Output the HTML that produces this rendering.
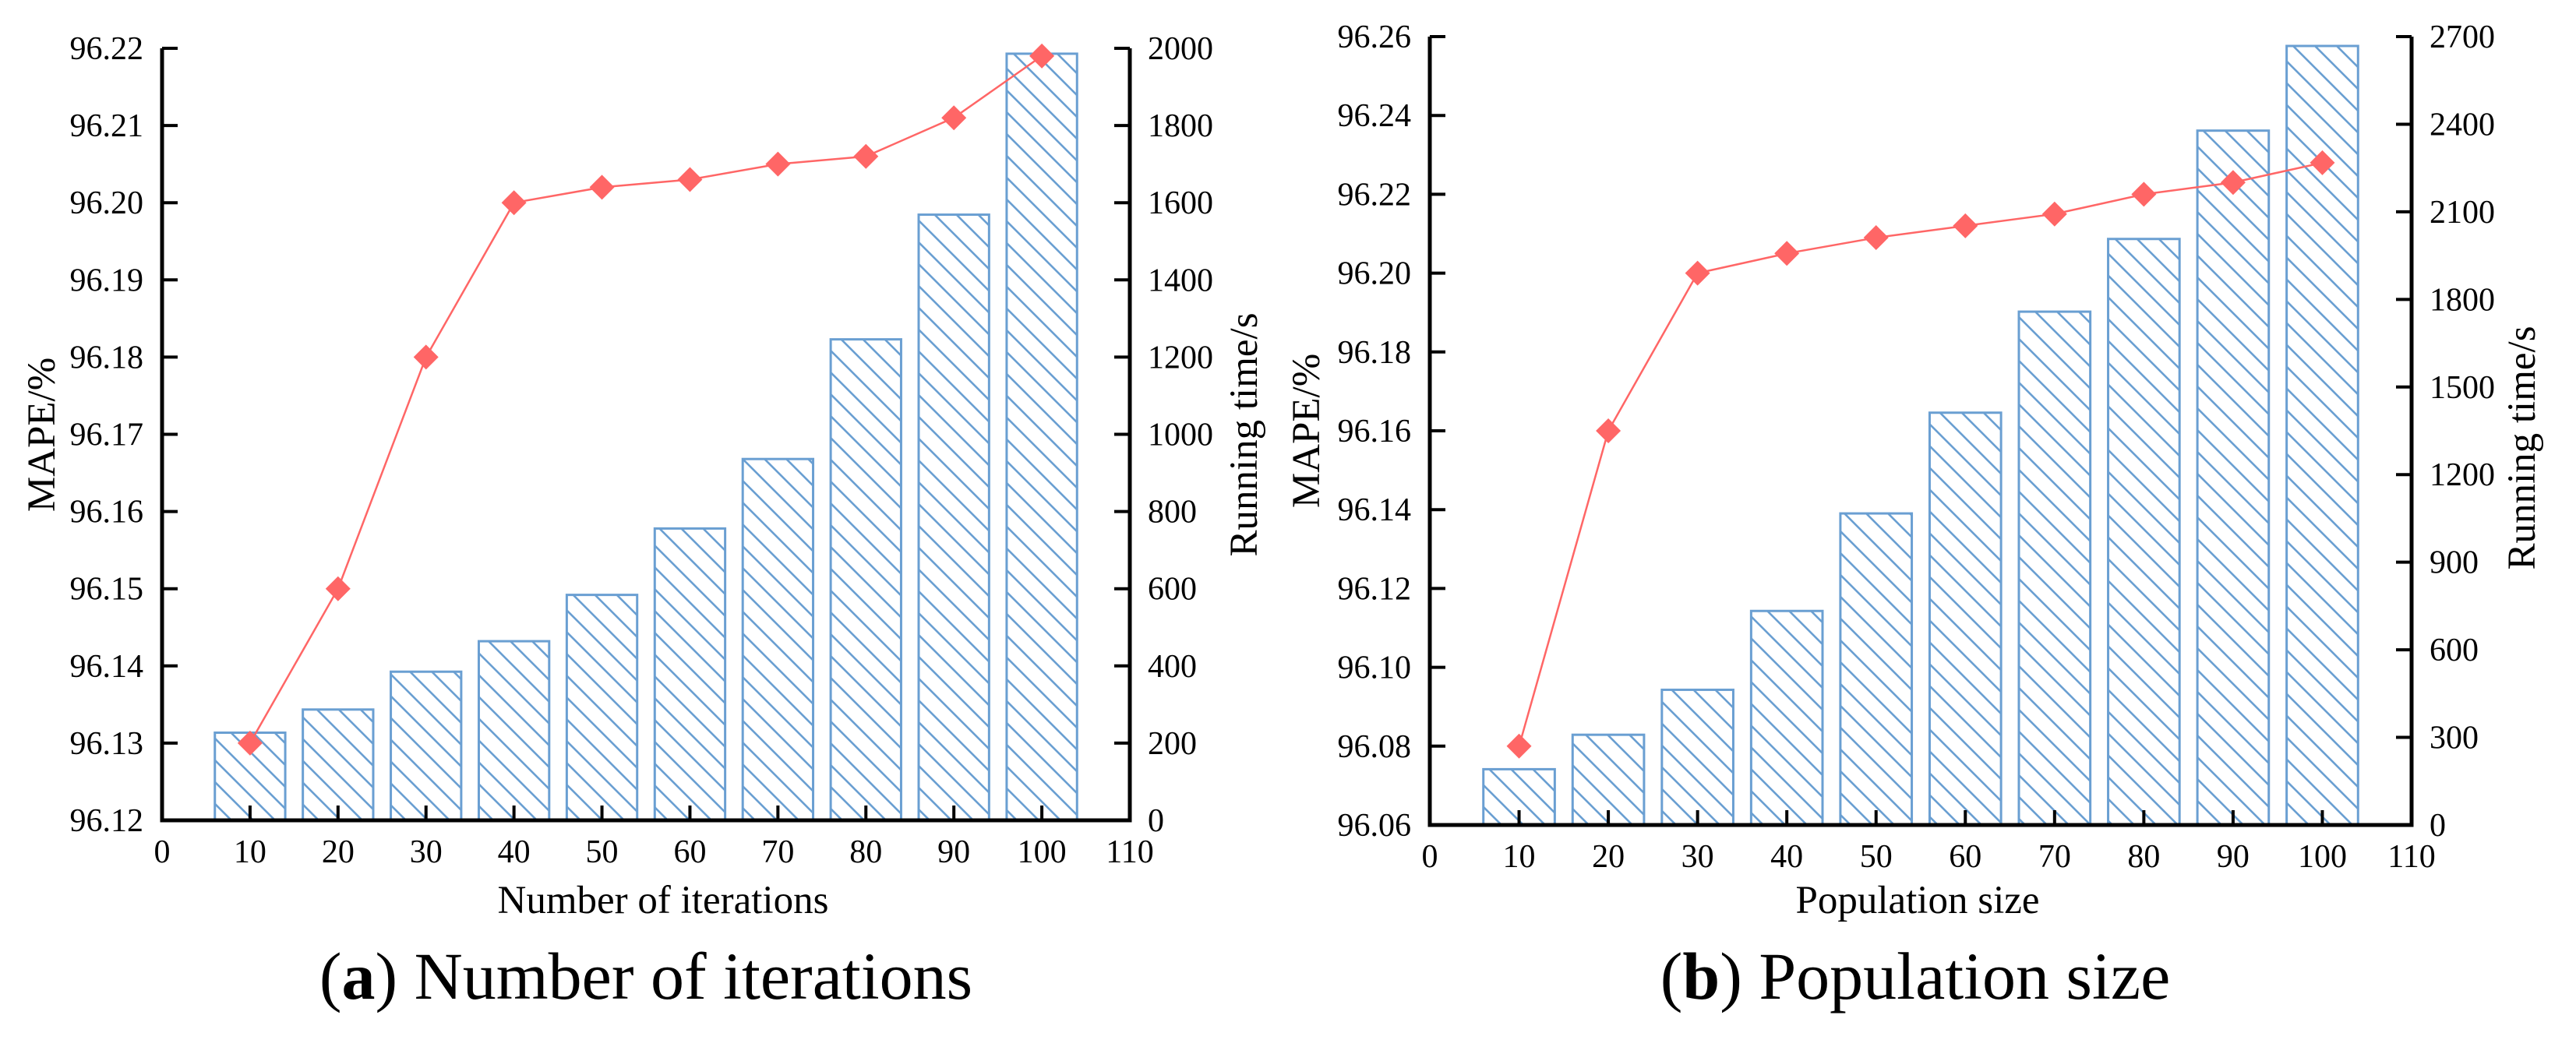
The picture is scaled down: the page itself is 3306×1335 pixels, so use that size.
<!DOCTYPE html>
<html><head><meta charset="utf-8"><style>
html,body{margin:0;padding:0;background:#fff;}
svg{display:block;}
text{font-family:"Liberation Serif","Times New Roman",serif;}
</style></head><body>
<svg id="fig" width="3306" height="1335" viewBox="0 0 3306 1335" xmlns="http://www.w3.org/2000/svg" font-family="Liberation Serif, serif">
<defs>
<pattern id="hatch" patternUnits="userSpaceOnUse" width="28" height="28">
<path d="M-7,-7 L35,35 M-7,21 L7,35 M21,-7 L35,7" stroke="#6a9fd2" stroke-width="2.6"/>
</pattern>
</defs>
<g id="panelA"></g>
<g id="panelB"></g>
</svg>
<script>
// Panel (a) data
const catsA = [10,20,30,40,50,60,70,80,90,100];
const mapeA = [96.130,96.150,96.180,96.200,96.202,96.203,96.205,96.206,96.211,96.219];
const timeA = [227,287,385,464,584,756,936,1246,1569,1986];
const leftTicksA = ["96.12","96.13","96.14","96.15","96.16","96.17","96.18","96.19","96.20","96.21","96.22"];
const rightTicksA = [0,200,400,600,800,1000,1200,1400,1600,1800,2000];
// Panel (b) data
const catsB = [10,20,30,40,50,60,70,80,90,100];
const mapeB = [96.080,96.160,96.200,96.205,96.209,96.212,96.215,96.220,96.223,96.228];
const timeB = [191,309,463,733,1067,1412,1758,2007,2378,2668];
const leftTicksB = ["96.06","96.08","96.10","96.12","96.14","96.16","96.18","96.20","96.22","96.24","96.26"];
const rightTicksB = [0,300,600,900,1200,1500,1800,2100,2400,2700];
const xTicks = [0,10,20,30,40,50,60,70,80,90,100,110];

const NS = "http://www.w3.org/2000/svg";
const FONT = '"Liberation Serif", "Times New Roman", serif';
function mk(parent, tag, attrs, text){
  const e = document.createElementNS(NS, tag);
  for (const k in attrs) e.setAttribute(k, attrs[k]);
  if (tag === 'text') e.style.fontFamily = FONT;
  if (text !== undefined) e.textContent = text;
  parent.appendChild(e);
  return e;
}

function drawPanel(g, o){
  const L=o.left, R=o.right, T=o.top, B=o.bottom;
  const xs = v => L + (v-0)/110*(R-L);
  const lMin=parseFloat(o.lticks[0]), lMax=parseFloat(o.lticks[o.lticks.length-1]);
  const yl = v => B - (v-lMin)/(lMax-lMin)*(B-T);
  const rMax=o.rticks[o.rticks.length-1];
  const yr = v => B - v/rMax*(B-T);

  o.cats.forEach((c,i)=>{
    const x0=xs(c-4), x1=xs(c+4), y=yr(o.time[i]);
    const r = mk(g,'rect',{x:x0,y:y,width:x1-x0,height:B-y,fill:'url(#hatch)',stroke:'#6a9fd2','stroke-width':3});
    
    
  });
  const ax = mk(g,'path',{d:`M${L},${T} L${L},${B} L${R},${B} L${R},${T}`,fill:'none',stroke:'#000','stroke-width':5});
  
  
  o.lticks.forEach(t=>{
    const y=yl(parseFloat(t));
    const tk=mk(g,'line',{x1:L,x2:L+20,y1:y,y2:y,stroke:'#000','stroke-width':4});
    
    
    const tx=mk(g,'text',{x:L-24,y:y+14,'text-anchor':'end','font-size':42},t);
    
    
  });
  o.rticks.forEach(t=>{
    const y=yr(t);
    const tk=mk(g,'line',{x1:R-20,x2:R,y1:y,y2:y,stroke:'#000','stroke-width':4});
    
    
    const tx=mk(g,'text',{x:R+23,y:y+14,'text-anchor':'start','font-size':42},String(t));
    
    
  });
  xTicks.forEach(t=>{
    const x=xs(t);
    if(t>0 && t<110){
      const tk=mk(g,'line',{x1:x,x2:x,y1:B,y2:B-19,stroke:'#000','stroke-width':4});
      
      
    }
    const tx=mk(g,'text',{x:x,y:B+54,'text-anchor':'middle','font-size':42},String(t));
    
    
  });
  const pts=o.cats.map((c,i)=>xs(c)+','+yl(o.mape[i])).join(' ');
  const pl=mk(g,'polyline',{points:pts,fill:'none',stroke:'#ff6666','stroke-width':2.5});
  
  
  o.cats.forEach((c,i)=>{
    const x=xs(c), y=yl(o.mape[i]), s=16;
    const d=mk(g,'polygon',{points:`${x},${y-s} ${x+s},${y} ${x},${y+s} ${x-s},${y}`,fill:'#ff6666'});
    
    
  });
  const xt=mk(g,'text',{x:o.xtX,y:1172,'text-anchor':'middle','font-size':51},o.xtitle);
  
  
  const lt=mk(g,'text',{x:0,y:0,'text-anchor':'middle','font-size':51,transform:`translate(${o.ltX+17},${o.ltY}) rotate(-90)`},'MAPE/%');
  
  
  const rt=mk(g,'text',{x:0,y:0,'text-anchor':'middle','font-size':51,transform:`translate(${o.rtX+17},${o.rtY}) rotate(-90)`},'Running time/s');
  
  
  const cap=mk(g,'text',{x:o.capX,y:1282,'text-anchor':'middle','font-size':86});
  
  
  mk(cap,'tspan',{},'(');
  mk(cap,'tspan',{'font-weight':'bold'},o.letter);
  mk(cap,'tspan',{},') '+o.caption);
}

drawPanel(document.getElementById('panelA'),{
  left:208,right:1450,top:62,bottom:1053,cats:catsA,mape:mapeA,time:timeA,
  lticks:leftTicksA,rticks:rightTicksA,xtitle:'Number of iterations',xtX:851,
  ltX:53,ltY:558,rtX:1596,rtY:558,capX:829,letter:'a',caption:'Number of iterations'
});
drawPanel(document.getElementById('panelB'),{
  left:1835,right:3095,top:47,bottom:1059,cats:catsB,mape:mapeB,time:timeB,
  lticks:leftTicksB,rticks:rightTicksB,xtitle:'Population size',xtX:2461,
  ltX:1676,ltY:553,rtX:3236,rtY:575,capX:2458,letter:'b',caption:'Population size'
});
</script>
</body></html>
